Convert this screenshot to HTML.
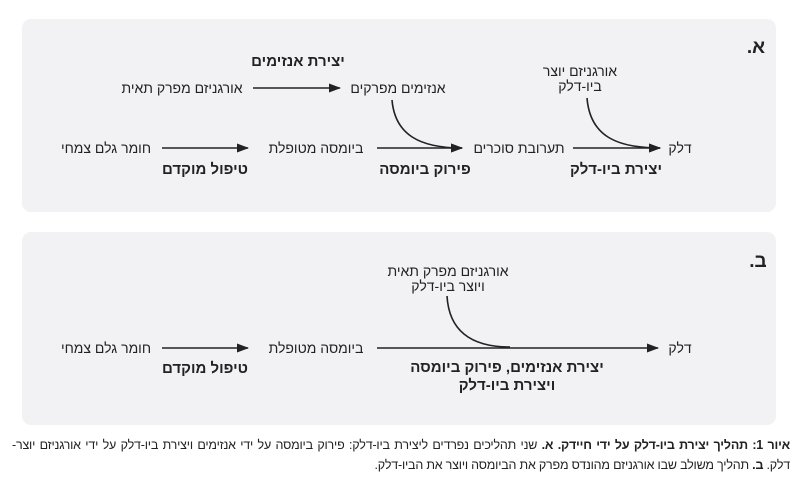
<!DOCTYPE html>
<html><head><meta charset="utf-8"><style>
body{margin:0;background:#fff;width:800px;height:487px;overflow:hidden;font-family:"Liberation Sans",Arial,sans-serif}
svg text{font-family:"Liberation Sans",Arial,sans-serif;fill:#222}
.cap{position:absolute;left:12px;width:778px;direction:rtl;font-size:12.5px;line-height:19px;color:#222;letter-spacing:-0.2px;white-space:nowrap}
.l1{top:436px;text-align:justify;text-align-last:justify}
.l2{top:456px;text-align:right}
</style></head><body>
<svg width="800" height="487" style="position:absolute;left:0;top:0">
<defs><marker id="a" markerWidth="12" markerHeight="9" refX="11" refY="4.5" orient="auto" markerUnits="userSpaceOnUse"><path d="M0,0L12,4.5L0,9z" fill="#222"/></marker></defs>
<rect x="22" y="19" width="754" height="193" rx="9" fill="#f2f2f4"/>
<rect x="22" y="232" width="754" height="193" rx="9" fill="#f2f2f4"/>
<g font-size="14" text-anchor="middle" direction="rtl">
<text x="756" y="53" font-size="19" font-weight="bold">א.</text>
<text x="298" y="66" font-size="15" font-weight="bold">יצירת אנזימים</text>
<text x="182" y="93">אורגניזם מפרק תאית</text>
<text x="398" y="93">אנזימים מפרקים</text>
<text x="580" y="76">אורגניזם יוצר</text>
<text x="580" y="91">ביו-דלק</text>
<text x="106" y="153">חומר גלם צמחי</text>
<text x="316" y="153">ביומסה מטופלת</text>
<text x="519" y="153">תערובת סוכרים</text>
<text x="680" y="153">דלק</text>
<text x="205" y="174" font-size="15" font-weight="bold">טיפול מוקדם</text>
<text x="425" y="174" font-size="15" font-weight="bold">פירוק ביומסה</text>
<text x="616" y="174" font-size="15" font-weight="bold">יצירת ביו-דלק</text>

<text x="758" y="267" font-size="19" font-weight="bold">ב.</text>
<text x="448" y="276">אורגניזם מפרק תאית</text>
<text x="448" y="291">ויוצר ביו-דלק</text>
<text x="106" y="353">חומר גלם צמחי</text>
<text x="316" y="353">ביומסה מטופלת</text>
<text x="680" y="353">דלק</text>
<text x="205" y="373" font-size="15" font-weight="bold">טיפול מוקדם</text>
<text x="507" y="372" font-size="15" font-weight="bold">יצירת אנזימים, פירוק ביומסה</text>
<text x="507" y="390" font-size="15" font-weight="bold">ויצירת ביו-דלק</text>
</g>
<g stroke="#222" stroke-width="1.6" fill="none" marker-end="url(#a)">
<line x1="253" y1="88" x2="340" y2="88"/>
<line x1="162" y1="148" x2="248" y2="148"/>
<line x1="377" y1="148" x2="462" y2="148"/>
<line x1="573" y1="148" x2="660" y2="148"/>
<path d="M392,100 C395,135 420,148 462,148"/>
<path d="M587,98 C590,135 615,148 660,148"/>
<line x1="162" y1="348" x2="248" y2="348"/>
<line x1="377" y1="348" x2="658" y2="348"/>
</g>
<path d="M447,296 C449,330 470,347 510,347" stroke="#222" stroke-width="1.6" fill="none"/>
</svg>
<div class="cap l1"><b>איור 1: תהליך יצירת ביו-דלק על ידי חיידק. א.</b> שני תהליכים נפרדים ליצירת ביו-דלק: פירוק ביומסה על ידי אנזימים ויצירת ביו-דלק על ידי אורגניזם יוצר-</div>
<div class="cap l2">דלק. <b>ב.</b> תהליך משולב שבו אורגניזם מהונדס מפרק את הביומסה ויוצר את הביו-דלק.</div>
</body></html>
